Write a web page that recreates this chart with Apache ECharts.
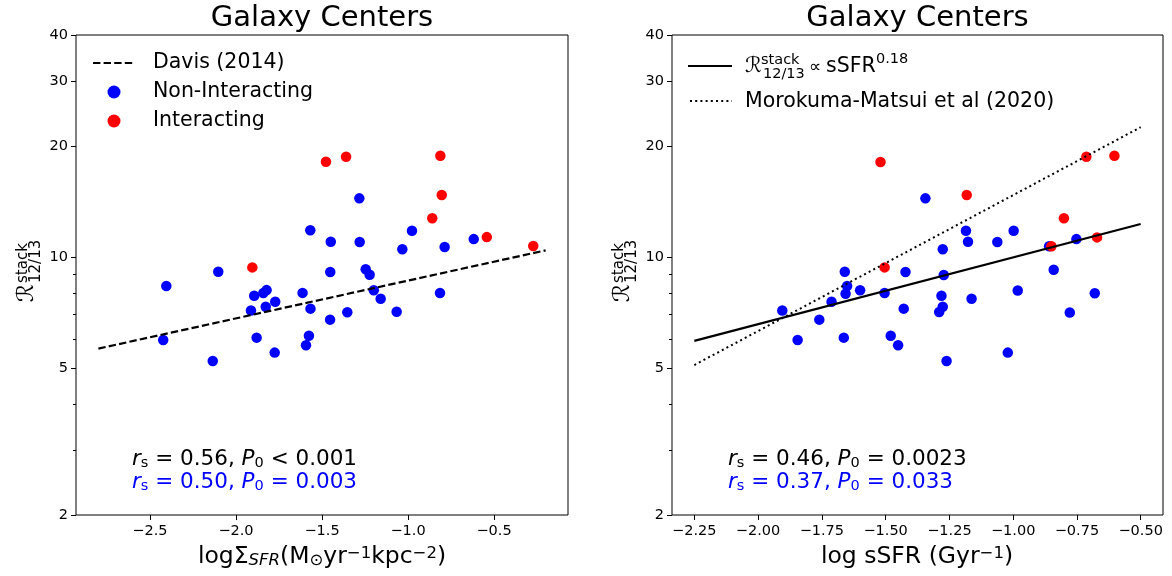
<!DOCTYPE html>
<html><head><meta charset="utf-8">
<script src="https://cdn.jsdelivr.net/npm/echarts@6/dist/echarts.min.js"></script>
<style>html,body{margin:0;padding:0;background:#fff}#c{width:1172px;height:576px}</style>
</head><body><div id="c"></div>
<script>
// ---- data ----
const sigmaNonX = [-2.405,-2.423,-2.135,-2.103,-1.913,-1.894,-1.880,-1.841,-1.822,-1.827,-1.772,-1.775,-1.613,-1.568,-1.567,-1.576,-1.593,-1.449,-1.452,-1.453,-1.353,-1.283,-1.281,-1.246,-1.223,-1.199,-1.159,-1.066,-1.033,-0.977,-0.814,-0.787,-0.618];
const ratioNonL = [8.35,5.96,5.23,9.13,7.17,7.86,6.05,7.99,8.14,7.34,7.57,5.51,8.00,11.82,7.25,6.12,5.77,11.01,9.11,6.77,7.09,14.43,10.99,9.27,8.96,8.13,7.71,7.11,10.50,11.79,7.99,10.65,11.19];
const sigmaIntX = [-1.905,-1.477,-1.360,-0.812,-0.804,-0.859,-0.542,-0.272];
const ratioIntL = [9.38,18.14,18.71,18.83,14.73,12.74,11.33,10.72];

const ssfrNonX = [-1.344,-1.660,-1.422,-1.651,-1.657,-1.600,-1.504,-1.712,-1.905,-1.429,-1.760,-1.845,-1.664,-1.480,-1.451,-1.185,-1.177,-0.998,-1.062,-1.276,-0.859,-0.752,-1.272,-0.841,-0.982,-0.680,-1.281,-1.163,-1.276,-1.290,-0.778,-1.261,-1.021];
const ratioNonR = [14.43,9.13,9.11,8.35,7.96,8.13,7.99,7.57,7.17,7.25,6.77,5.96,6.05,6.12,5.77,11.79,11.01,11.79,10.99,10.50,10.70,11.19,8.94,9.24,8.12,7.98,7.86,7.71,7.34,7.10,7.08,5.23,5.51];
const ssfrIntX = [-1.520,-1.504,-1.182,-0.713,-0.603,-0.801,-0.671,-0.850];
const ratioIntR = [18.10,9.38,14.73,18.71,18.83,12.74,11.31,10.70];

const davisX = [-2.8,-0.2];  const davisY = [5.65,10.43];
const fitX = [-2.25,-0.5];   const fitY = [5.93,12.3];
const mmX = [-2.25,-0.5];    const mmY = [5.10,22.5];

const yMajorTicks = [2,5,10,20,30,40];
const yMinorTicks = [3,4,6,7,8,9];
const xTicksLeft = [-2.5,-2.0,-1.5,-1.0,-0.5];
const xTicksRight = [-2.25,-2.0,-1.75,-1.5,-1.25,-1.0,-0.75,-0.5];

// ---- chart ----
const F = 'DejaVu Sans';
const zip = (a,b) => a.map((v,i)=>[v,b[i]]);
const fmtX = d => v => (v<0?'\u2212':'') + Math.abs(v).toFixed(d);

function xAxis(grid,min,max,ticks,dec){
  return {type:'value', gridIndex:grid, position:'bottom', min:min, max:max,
    axisLine:{show:false}, splitLine:{show:false},
    axisTick:{show:true, customValues:ticks, length:5, lineStyle:{color:'#000',width:1}},
    axisLabel:{show:true, customValues:ticks, formatter:fmtX(dec), color:'#000', fontFamily:F, fontSize:14.5, margin:9}};
}
function yMajor(grid){
  return {type:'log', logBase:10, gridIndex:grid, position:'left', min:2, max:40,
    axisLine:{show:false}, splitLine:{show:false},
    axisTick:{show:true, customValues:yMajorTicks, length:5, lineStyle:{color:'#000',width:1}},
    axisLabel:{show:true, customValues:yMajorTicks, formatter:v=>String(Math.round(v)), color:'#000', fontFamily:F, fontSize:14.5, margin:8}};
}
function yMinor(grid){
  return {type:'log', logBase:10, gridIndex:grid, position:'left', offset:0, min:2, max:40,
    axisLine:{show:false}, splitLine:{show:false},
    axisTick:{show:true, customValues:yMinorTicks, length:3, lineStyle:{color:'#000',width:1}},
    axisLabel:{show:false}};
}
function scat(xi,yi,xs,ys,color){
  return {type:'scatter', xAxisIndex:xi, yAxisIndex:yi, data:zip(xs,ys), symbol:'circle', symbolSize:10.5,
    itemStyle:{color:color, opacity:1}, z:2, silent:true};
}
function line(xi,yi,xs,ys,type,w){
  return {type:'line', xAxisIndex:xi, yAxisIndex:yi, data:zip(xs,ys), showSymbol:false, symbol:'none',
    lineStyle:{color:'#000', width:w, type:type}, z:3, silent:true};
}
function txt(x,y,text,size,opts){
  return Object.assign({type:'text', x:x, y:y, silent:true, style:Object.assign({text:text, fill:'#000', textFill:'#000',
    font:size+'px "DejaVu Sans"', align:'left', textAlign:'left', verticalAlign:'middle', textVerticalAlign:'middle'}, opts||{})});
}
function ylabel(cx,cy){
  return {type:'group', x:cx, y:cy, rotation:Math.PI/2, silent:true, children:[
    txt(0,0,'\u211B',23,{align:'right',textAlign:'right'}),
    txt(1,-4,'stack',15),
    txt(1,9,'12/13',15)
  ]};
}
function stat(x,y,text,color){
  return {type:'text', x:x, y:y, silent:true, style:{text:text, fill:color, textFill:color,
    font:'21.5px "DejaVu Sans"', align:'left', textAlign:'left', verticalAlign:'middle', textVerticalAlign:'middle',
    rich:{
      i:{fontFamily:F, fontSize:21.5, fontStyle:'italic', lineHeight:24, fill:color},
      n:{fontFamily:F, fontSize:21.5, lineHeight:24, fill:color},
      s:{fontFamily:F, fontSize:14.5, lineHeight:12, verticalAlign:'bottom', fill:color}
    }}};
}

const chart = echarts.init(document.getElementById('c'), null, {renderer:'canvas'});
chart.setOption({
  animation:false,
  backgroundColor:'#fff',
  grid:[
    {left:76, top:35, width:492, height:480, show:true, borderColor:'#000', borderWidth:1, backgroundColor:'transparent', containLabel:false},
    {left:672, top:35, width:491, height:480, show:true, borderColor:'#000', borderWidth:1, backgroundColor:'transparent', containLabel:false}
  ],
  xAxis:[ xAxis(0,-2.93,-0.07,xTicksLeft,1), xAxis(1,-2.3375,-0.4125,xTicksRight,2) ],
  yAxis:[ yMajor(0), yMinor(0), yMajor(1), yMinor(1) ],
  series:[
    scat(0,0,sigmaNonX,ratioNonL,'#0000ff'),
    scat(0,0,sigmaIntX,ratioIntL,'#ff0000'),
    line(0,0,davisX,davisY,[7.4,3.2],2.2),
    scat(1,2,ssfrNonX,ratioNonR,'#0000ff'),
    scat(1,2,ssfrIntX,ratioIntR,'#ff0000'),
    line(1,2,fitX,fitY,'solid',2.2),
    line(1,2,mmX,mmY,[2,3.2],2)
  ],
  graphic:{elements:[
    // titles
    txt(322,18,'Galaxy Centers',29,{align:'center',textAlign:'center'}),
    txt(917.5,18,'Galaxy Centers',29,{align:'center',textAlign:'center'}),
    // axis labels
    {type:'text', x:322, y:557, silent:true, style:{text:'logΣ{it|SFR}(M{sb|⊙}yr{sp|−1}kpc{sp|−2})', fill:'#000', textFill:'#000',
      font:'23.5px "DejaVu Sans"', align:'center', textAlign:'center', verticalAlign:'middle', textVerticalAlign:'middle',
      rich:{
        it:{fontFamily:F, fontSize:16.5, fontStyle:'italic', lineHeight:12, verticalAlign:'bottom', fill:'#000'},
        sb:{fontFamily:F, fontSize:16.5, lineHeight:12, verticalAlign:'bottom', fill:'#000'},
        sp:{fontFamily:F, fontSize:16.5, lineHeight:12, verticalAlign:'top', fill:'#000'}
      }}},
    {type:'text', x:917, y:557, silent:true, style:{text:'log sSFR (Gyr{sp|−1})', fill:'#000', textFill:'#000',
      font:'23.5px "DejaVu Sans"', align:'center', textAlign:'center', verticalAlign:'middle', textVerticalAlign:'middle',
      rich:{ sp:{fontFamily:F, fontSize:16.5, lineHeight:12, verticalAlign:'top', fill:'#000'} }}},
    ylabel(27,284),
    ylabel(623,284),
    // left legend
    {type:'line', silent:true, shape:{x1:93,y1:63,x2:135,y2:63}, style:{stroke:'#000', lineWidth:2.2, lineDash:[7.4,3.2]}},
    {type:'circle', silent:true, shape:{cx:114,cy:92,r:6.5}, style:{fill:'#0000ff'}},
    {type:'circle', silent:true, shape:{cx:114,cy:121,r:6.5}, style:{fill:'#ff0000'}},
    txt(153,63,'Davis (2014)',20.5),
    txt(153,92,'Non-Interacting',20.5),
    txt(153,121,'Interacting',20.5),
    // right legend
    {type:'line', silent:true, shape:{x1:688,y1:66,x2:732,y2:66}, style:{stroke:'#000', lineWidth:2.2}},
    {type:'line', silent:true, shape:{x1:690,y1:101,x2:732,y2:101}, style:{stroke:'#000', lineWidth:2, lineDash:[2,3.2]}},
    txt(745,67,'\u211B',21),
    txt(761,60,'stack',14.5),
    txt(763,74,'12/13',14.5),
    txt(809,68,'\u221D',17),
    txt(826,67,'sSFR',20.5),
    txt(876,59,'0.18',14.5),
    txt(745,101.5,'Morokuma-Matsui et al (2020)',20.5),
    // stats
    stat(132,459,'{i|r}{s|s}{n| = 0.56, }{i|P}{s|0}{n| < 0.001}','#000'),
    stat(132,482,'{i|r}{s|s}{n| = 0.50, }{i|P}{s|0}{n| = 0.003}','#0000ff'),
    stat(728,459,'{i|r}{s|s}{n| = 0.46, }{i|P}{s|0}{n| = 0.0023}','#000'),
    stat(728,482,'{i|r}{s|s}{n| = 0.37, }{i|P}{s|0}{n| = 0.033}','#0000ff')
  ]}
});
</script>
</body></html>
